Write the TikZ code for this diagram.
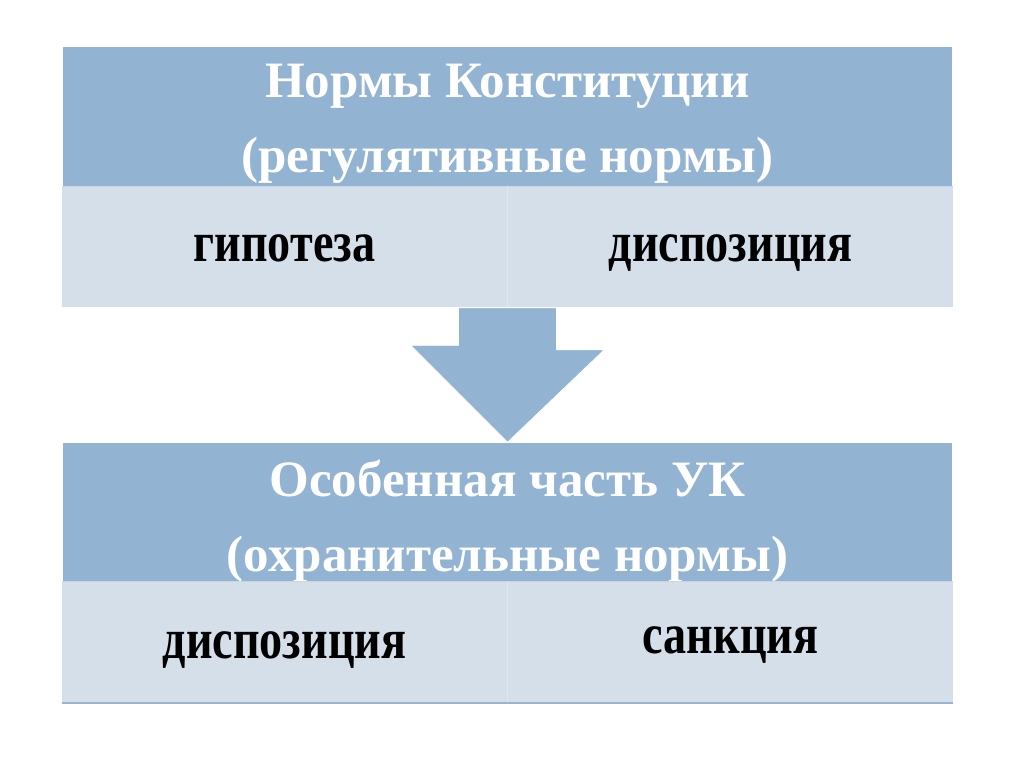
\documentclass[tikz,border=0pt]{standalone}
\usepackage{fontspec}
\setmainfont{Liberation Serif}
\newfontfamily\cellfont[FakeStretch=0.81]{Liberation Serif}
\usetikzlibrary{positioning}
\definecolor{headblue}{HTML}{93B3D3}
\definecolor{cellblue}{HTML}{D5DFEA}
\definecolor{lineblue}{HTML}{98B4D0}
\definecolor{edgeblue}{HTML}{C6D6E8}
\definecolor{divblue}{HTML}{DEE6EF}
\tikzset{%
  % Specifications for style of nodes:
     head/.style = {rectangle, fill=headblue, inner sep=0pt,
                    minimum width=889pt, minimum height=139pt},
 headtext/.style = {text=white, inner sep=0pt, align=center,
                    font=\fontsize{51}{75}\selectfont\bfseries},
     cell/.style = {rectangle, fill=cellblue, inner sep=0pt,
                    minimum width=445.5pt, minimum height=121pt,
                    text height=30pt, text depth=0pt,
                    font=\cellfont\fontsize{57}{60}\selectfont\bfseries},
  blockarrow/.style = {fill=headblue, draw=white, line width=0.8pt}
}
\begin{document}
\begin{tikzpicture}[x=1pt, y=-1pt, node distance=0pt]
  \useasboundingbox[fill=white] (0,0) rectangle (1024,767);
  % Specification of nodes (position, etc.)
  \node (konst)   [head] at (507.5,116.5) {};
  \node (konsttext) [headtext] at ([yshift=-7pt]konst.center) {Нормы Конституции\\(регулятивные нормы)};
  \node (hyp1)    [cell, below left=0pt and 0pt of konst.south] {гипотеза};
  \node (disp1)   [cell, below right=0pt and 0pt of konst.south] {диспозиция};

  \node (ukpart)  [head] at (507.5,512) {};
  \node (ukparttext) [headtext] at ([yshift=-9pt]ukpart.center) {Особенная часть УК\\(охранительные нормы)};
  \node (disp2)   [cell, below left=0pt and 0pt of ukpart.south, text height=32pt] {диспозиция};
  \node (sanct)   [cell, below right=0pt and 0pt of ukpart.south, text height=23pt] {санкция};

  \draw[edgeblue, line width=1pt] (hyp1.north west) -- (disp1.north east);
  \draw[divblue, line width=1pt] (hyp1.north east) -- (hyp1.south east);
  \draw[edgeblue, line width=1pt] (disp2.north west) -- (sanct.north east);
  \draw[divblue, line width=1pt] (disp2.north east) -- (disp2.south east);
  \draw[lineblue, line width=2pt] (disp2.south west) -- (sanct.south east);

  % block arrow from the upper table to the lower one
  \draw[blockarrow] ([xshift=-49pt]hyp1.south east) -- ([xshift=49pt]hyp1.south east)
    -- ++(0,42) -- ++(48,0) -- (ukpart.north) -- ++(-97,-97) -- ++(48,0) -- cycle;
\end{tikzpicture}
\end{document}
